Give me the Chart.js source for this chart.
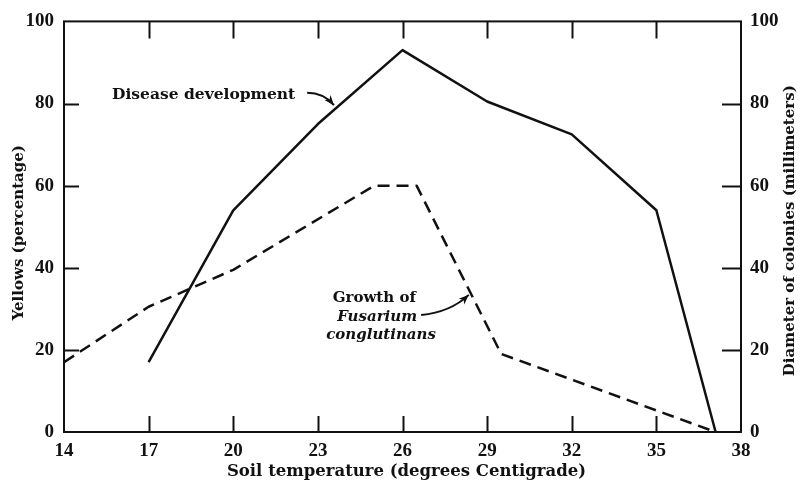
<!DOCTYPE html>
<html><head><meta charset="utf-8">
<script src="https://cdn.jsdelivr.net/npm/chart.js@4.4.1/dist/chart.umd.min.js"></script>
<style>html,body{margin:0;padding:0;background:#fff;} #wrap{width:805px;height:494px;position:relative;}</style>
</head><body><div id="wrap"><canvas id="c" width="805" height="494"></canvas></div>
<script>
// ---- data ----
const xTicks = [14, 17, 20, 23, 26, 29, 32, 35, 38];
const yTicks = [0, 20, 40, 60, 80, 100];
const diseaseTemp = [17, 20, 23, 26, 29, 32, 35, 37.1];
const diseaseYellows = [17, 54, 75, 93, 80.5, 72.5, 54, 0];
const growthTemp = [14, 17, 20, 25, 26.5, 29.5, 37.1];
const growthDiameter = [17, 30.5, 39.5, 60, 60, 19, 0];
const xTitle = 'Soil temperature (degrees Centigrade)';
const yTitle = 'Yellows (percentage)';
const y2Title = 'Diameter of colonies (millimeters)';
const diseaseLabel = 'Disease development';
const growthLabel = ['Growth of', 'Fusarium', 'conglutinans'];

const INK = '#111';
const tickFont = {family: '"Liberation Serif", serif', weight: 'bold', size: 19};

const overlay = {
  id: 'overlay',
  afterDraw(chart) {
    const {ctx, chartArea: a, scales} = chart;
    const xs = scales.x, ys = scales.y, y2 = scales.y2;
    ctx.save();
    ctx.strokeStyle = INK; ctx.fillStyle = INK;
    ctx.lineWidth = 2;
    ctx.strokeRect(a.left, a.top, a.right - a.left, a.bottom - a.top);
    // inward ticks
    ctx.beginPath();
    xTicks.slice(1, -1).forEach(v => {
      const px = Math.round(xs.getPixelForValue(v)) + 0.5;
      ctx.moveTo(px, a.bottom); ctx.lineTo(px, a.bottom - 16);
      ctx.moveTo(px, a.top); ctx.lineTo(px, a.top + 17);
    });
    yTicks.slice(1, -1).forEach(v => {
      const py = Math.round(ys.getPixelForValue(v)) + 0.5;
      ctx.moveTo(a.left, py); ctx.lineTo(a.left + 15, py);
      const py2 = Math.round(y2.getPixelForValue(v)) + 0.5;
      ctx.moveTo(a.right, py2); ctx.lineTo(a.right - 19, py2);
    });
    ctx.stroke();
    // axis titles
    ctx.textAlign = 'center'; ctx.textBaseline = 'middle';
    ctx.font = 'bold 16.5px "DejaVu Serif", serif';
    ctx.fillText(xTitle, (a.left + a.right) / 2 + 4, a.bottom + 40);
    ctx.font = 'bold 15px "DejaVu Serif", serif';
    ctx.save();
    ctx.translate(a.left - 45, (a.top + a.bottom) / 2 + 6);
    ctx.rotate(-Math.PI / 2);
    ctx.fillText(yTitle, 0, 0);
    ctx.restore();
    ctx.save();
    ctx.translate(a.right + 49, (a.top + a.bottom) / 2 + 4);
    ctx.rotate(-Math.PI / 2);
    ctx.fillText(y2Title, 0, 0);
    ctx.restore();
    // annotations
    const P = (t, v) => [xs.getPixelForValue(t), ys.getPixelForValue(v)];
    ctx.font = 'bold 15.5px "DejaVu Serif", serif';
    let [tx, ty] = P(18.95, 82.2);
    ctx.fillText(diseaseLabel, tx, ty);
    ctx.font = 'bold 15px "DejaVu Serif", serif';
    [tx, ty] = P(25.0, 32.6);
    ctx.fillText(growthLabel[0], tx, ty);
    ctx.font = 'italic bold 15px "DejaVu Serif", serif';
    [tx, ty] = P(25.1, 28.1);
    ctx.fillText(growthLabel[1], tx, ty);
    [tx, ty] = P(25.24, 23.5);
    ctx.fillText(growthLabel[2], tx, ty);
    const arrow = (s, c, e) => {
      ctx.lineWidth = 2;
      ctx.beginPath(); ctx.moveTo(s[0], s[1]); ctx.quadraticCurveTo(c[0], c[1], e[0], e[1]); ctx.stroke();
      const ang = Math.atan2(e[1] - c[1], e[0] - c[0]);
      const L = 10, W = 4;
      ctx.beginPath();
      ctx.moveTo(e[0], e[1]);
      ctx.lineTo(e[0] - L * Math.cos(ang) + W * Math.sin(ang), e[1] - L * Math.sin(ang) - W * Math.cos(ang));
      ctx.lineTo(e[0] - L * Math.cos(ang) * 0.7, e[1] - L * Math.sin(ang) * 0.7);
      ctx.lineTo(e[0] - L * Math.cos(ang) - W * Math.sin(ang), e[1] - L * Math.sin(ang) + W * Math.cos(ang));
      ctx.closePath(); ctx.fill();
    };
    arrow(P(22.62, 82.6), P(23.2, 82.6), P(23.57, 79.6));
    arrow(P(26.66, 28.5), P(27.7, 29.2), P(28.35, 33.4));
    ctx.restore();
  }
};

new Chart(document.getElementById('c'), {
  type: 'line',
  data: {
    datasets: [
      {
        label: diseaseLabel,
        data: diseaseTemp.map((t, i) => ({x: t, y: diseaseYellows[i]})),
        yAxisID: 'y', borderColor: INK, borderWidth: 2.5, pointRadius: 0, tension: 0, fill: false,
        borderJoinStyle: 'round', clip: 4
      },
      {
        label: growthLabel.join(' '),
        data: growthTemp.map((t, i) => ({x: t, y: growthDiameter[i]})),
        yAxisID: 'y2', borderColor: INK, borderWidth: 2.5, borderDash: [12, 7], pointRadius: 0, tension: 0, fill: false,
        borderJoinStyle: 'round', clip: 4
      }
    ]
  },
  options: {
    responsive: false, animation: false, devicePixelRatio: 1,
    layout: {padding: {top: 17, left: 0, right: 0, bottom: 0}},
    plugins: {legend: {display: false}, tooltip: {enabled: false}},
    scales: {
      x: {
        type: 'linear', min: 14, max: 38,
        afterBuildTicks: s => { s.ticks = xTicks.map(v => ({value: v})); },
        afterFit: s => { s.height = 62; },
        grid: {display: false, drawTicks: false}, border: {display: false},
        ticks: {font: tickFont, color: INK, padding: 8, maxRotation: 0, autoSkip: false}
      },
      y: {
        position: 'left', min: 0, max: 100,
        afterBuildTicks: s => { s.ticks = yTicks.map(v => ({value: v})); },
        afterFit: s => { s.width = 64; },
        grid: {display: false, drawTicks: false}, border: {display: false},
        ticks: {font: tickFont, color: INK, padding: 10}
      },
      y2: {
        position: 'right', min: 0, max: 100,
        afterBuildTicks: s => { s.ticks = yTicks.map(v => ({value: v})); },
        afterFit: s => { s.width = 64; },
        grid: {display: false, drawTicks: false}, border: {display: false},
        ticks: {font: tickFont, color: INK, padding: 9}
      }
    }
  },
  plugins: [overlay]
});
</script>
</body></html>
